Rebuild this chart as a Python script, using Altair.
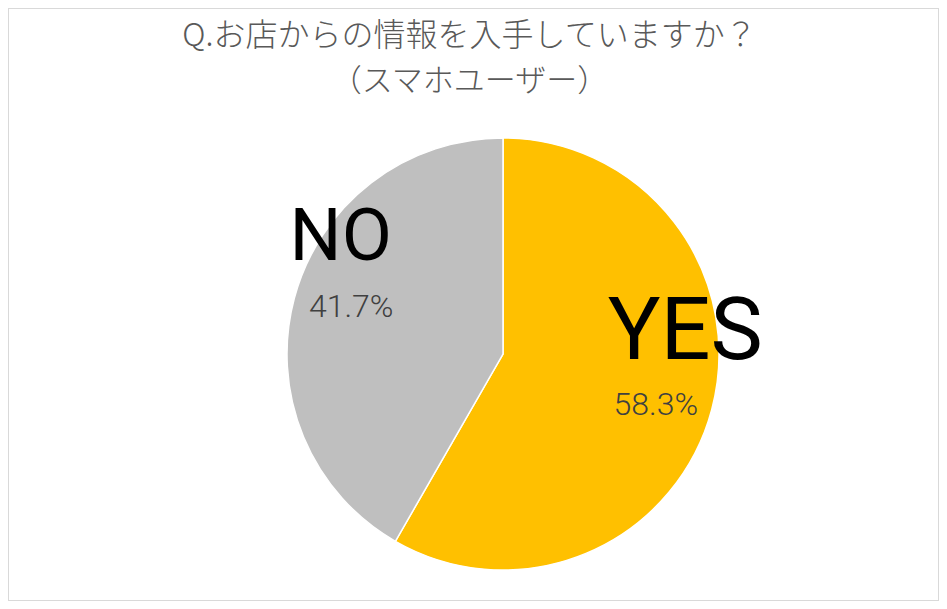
import altair as alt
import pandas as pd

categories = ["YES", "NO"]
values = [58.3, 41.7]
pct_labels = ["58.3%", "41.7%"]
colors = ["#FFC000", "#BFBFBF"]
title_text = "Q.お店からの情報を入手していますか？"
subtitle_text = "（スマホユーザー）"

df = pd.DataFrame({
    "cat": categories,
    "value": values,
    "pct": pct_labels,
    "idx": list(range(len(categories))),
})

W, H = 931, 593
CX, CY, R = 495, 346, 216

base = alt.Chart(df).encode(
    theta=alt.Theta("value:Q", stack=True),
    order=alt.Order("idx:O"),
)

pie = base.mark_arc(outerRadius=R, stroke="white", strokeWidth=1.5).encode(
    x=alt.value(CX),
    y=alt.value(CY),
    color=alt.Color("cat:N", scale=alt.Scale(domain=categories, range=colors), legend=None),
)


def label(cat, field, r, dx, dy, size, font, color, weight="normal"):
    return base.transform_calculate(
        lab=f"datum.cat == '{cat}' ? datum.{field} : ''"
    ).mark_text(
        radius=r, dx=dx, dy=dy, fontSize=size, font=font, color=color,
        fontWeight=weight, align="center", baseline="alphabetic",
    ).encode(
        x=alt.value(CX),
        y=alt.value(CY),
        text="lab:N",
    )


layers = [
    pie,
    label("YES", "cat", 170, 18, -39, 88, "Roboto", "#000000"),
    label("NO", "cat", 170, 2, -50, 73, "Roboto", "#000000"),
    label("YES", "pct", 155, 3, 21, 32, "Roboto", "#404040", 300),
    label("NO", "pct", 155, -2, 3, 32, "Roboto", "#404040", 300),
]

chart = alt.layer(*layers).properties(
    width=W,
    height=H,
    padding=0,
    autosize=alt.AutoSizeParams(type="none"),
    title=alt.TitleParams(
        text=title_text,
        subtitle=subtitle_text,
        font="Noto Sans CJK JP",
        subtitleFont="Noto Sans CJK JP",
        fontSize=32,
        subtitleFontSize=31,
        fontWeight=300,
        subtitleFontWeight=300,
        color="#595959",
        subtitleColor="#595959",
        anchor="middle",
        frame="group",
        offset=0,
        dx=-4,
        dy=90,
        subtitlePadding=14,
    ),
).configure_view(stroke="#d9d9d9", strokeWidth=2)

chart.save("out.html", embed_options={"renderer": "svg", "actions": False})
